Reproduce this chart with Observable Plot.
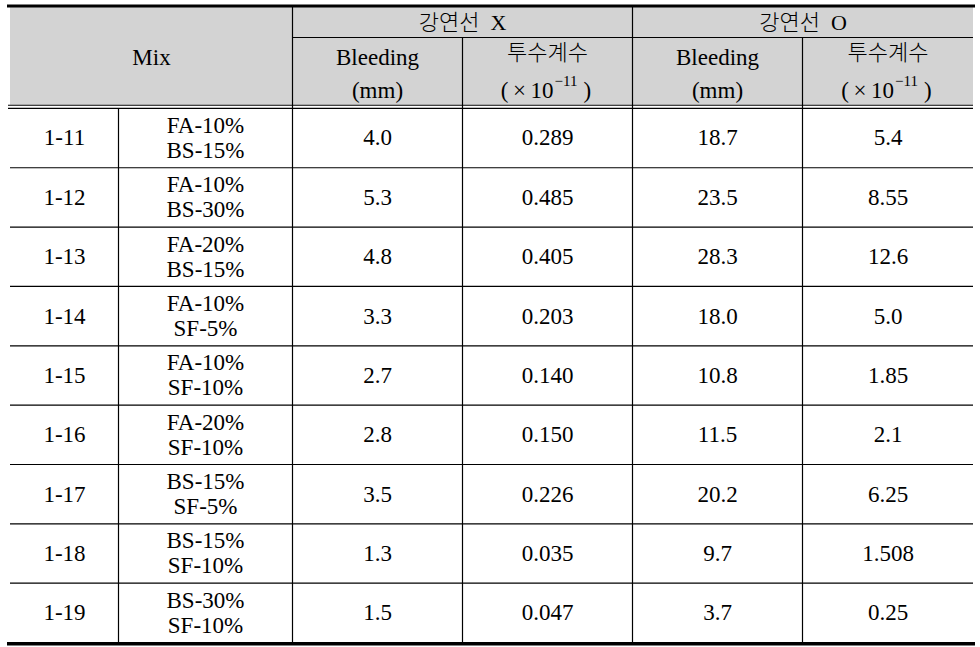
<!DOCTYPE html>
<html><head><meta charset="utf-8">
<script src="https://cdn.jsdelivr.net/npm/d3@7"></script>
<script src="https://cdn.jsdelivr.net/npm/@observablehq/plot@0.6"></script>
<style>body{margin:0;background:#fff}</style>
</head><body><div id="chart"></div>
<script>
// ---- data ----
const mixIds = ["1-11","1-12","1-13","1-14","1-15","1-16","1-17","1-18","1-19"];
const mixLine1 = ["FA-10%","FA-10%","FA-20%","FA-10%","FA-10%","FA-20%","BS-15%","BS-15%","BS-30%"];
const mixLine2 = ["BS-15%","BS-30%","BS-15%","SF-5%","SF-10%","SF-10%","SF-5%","SF-10%","SF-10%"];
const bleedX = ["4.0","5.3","4.8","3.3","2.7","2.8","3.5","1.3","1.5"];
const permX  = ["0.289","0.485","0.405","0.203","0.140","0.150","0.226","0.035","0.047"];
const bleedO = ["18.7","23.5","28.3","18.0","10.8","11.5","20.2","9.7","3.7"];
const permO  = ["5.4","8.55","12.6","5.0","1.85","2.1","6.25","1.508","0.25"];
const headMix = "Mix";
const groupLabels = ["강연선  X","강연선  O"];
const subLabels = ["Bleeding","투수계수","Bleeding","투수계수"];
const unitMm = "(mm)";
const unitPermBase = "(\u2009×\u200910";
const unitPermExp = "−11";
const unitPermClose = ")";

// ---- layout ----
const W = 980, H = 647;
const colEdges = [10,118,292,462,632,802,973];
const headTop = 7, headMid = 37, headBot = 104.8, dataTop = 107.9, rowH = 59.35;
const nRows = mixIds.length;
const dataBot = dataTop + rowH*nRows;
const cx = i => (colEdges[i]+colEdges[i+1])/2;
const rowC = i => dataTop + rowH*(i+0.5);

const rows = mixIds.map((id,i)=>({id, m1:mixLine1[i], m2:mixLine2[i], yc:rowC(i)}));
const valueCols = [bleedX, permX, bleedO, permO];
const cells = [];
valueCols.forEach((col,c)=>col.forEach((v,i)=>cells.push({v, x:cx(c+2), y:rowC(i)})));
const subHeads = subLabels.map((s,c)=>({s, x:cx(c+2), korean: s!=="Bleeding"}));
const mmHeads = subHeads.filter(d=>!d.korean);
const permHeads = subHeads.filter(d=>d.korean);
const groups = groupLabels.map((g,k)=>({g, x:(colEdges[2+2*k]+colEdges[4+2*k])/2}));

const seps = d3.range(1,nRows).map(k=>({y:dataTop+rowH*k}));
const vlines = [
  {x:colEdges[1], y1:dataTop, y2:dataBot},
  {x:colEdges[2], y1:headTop, y2:dataBot},
  {x:colEdges[4], y1:headTop, y2:dataBot},
  {x:colEdges[3], y1:headMid, y2:dataBot},
  {x:colEdges[5], y1:headMid, y2:dataBot}
];

const SERIF = "Liberation Serif";
const KO = "Noto Sans CJK KR";
const FS = 23;
const ink = "#000";
const T = {fontSize:FS, fill:ink, fontFamily:SERIF};

const chart = Plot.plot({
  width: W, height: H,
  margin: 0,
  x: {type:"linear", domain:[0,W], range:[0,W], axis:null},
  y: {type:"linear", domain:[0,H], range:[0,H], axis:null},
  style: {background:"#fff"},
  marks: [
    Plot.rect([0], {x1:colEdges[0], x2:colEdges[6], y1:headTop, y2:headBot, fill:"#d3d3d3"}),
    Plot.ruleY([headTop-1.5], {x1:7, x2:975, stroke:"#000", strokeWidth:3.2}),
    Plot.ruleY([dataBot+1.2], {x1:7, x2:975, stroke:"#000", strokeWidth:3.4}),
    Plot.ruleY([headMid], {x1:colEdges[2], x2:colEdges[6], stroke:"#000", strokeWidth:1.2}),
    Plot.ruleY([headBot, dataTop], {x1:colEdges[0]-2, x2:colEdges[6], stroke:"#000", strokeWidth:1.1}),
    Plot.ruleY(seps, {y:"y", x1:colEdges[0], x2:colEdges[6], stroke:"#000", strokeWidth:1.2}),
    Plot.ruleX(vlines, {x:"x", y1:"y1", y2:"y2", stroke:"#000", strokeWidth:1.2}),
    // header text
    Plot.text([headMix], {...T, x:(colEdges[0]+colEdges[2])/2, y:57, text:d=>d}),
    Plot.text(groups, {...T, fontSize:22, fontFamily:`${SERIF}, ${KO}`, fontWeight:300, x:"x", y:22, text:"g"}),
    Plot.text(mmHeads, {...T, x:"x", y:57, text:"s"}),
    Plot.text(mmHeads, {...T, x:"x", y:90, text:()=>unitMm}),
    Plot.text(permHeads, {...T, fontSize:22, fontFamily:KO, fontWeight:300, x:"x", y:52, text:"s"}),
    Plot.text(permHeads, {...T, x:"x", dx:6, y:90, textAnchor:"end", text:()=>unitPermBase}),
    Plot.text(permHeads, {...T, fontSize:15, x:"x", dx:7, y:81, textAnchor:"start", text:()=>unitPermExp}),
    Plot.text(permHeads, {...T, x:"x", dx:36, y:90, textAnchor:"start", text:()=>unitPermClose}),
    // body text
    Plot.text(rows, {...T, x:cx(0), y:"yc", text:"id"}),
    Plot.text(rows, {...T, x:cx(1), y:d=>d.yc-12.5, text:"m1"}),
    Plot.text(rows, {...T, x:cx(1), y:d=>d.yc+12.5, text:"m2"}),
    Plot.text(cells, {...T, x:"x", y:"y", text:"v"})
  ]
});
document.getElementById("chart").append(chart);
</script>
</body></html>
